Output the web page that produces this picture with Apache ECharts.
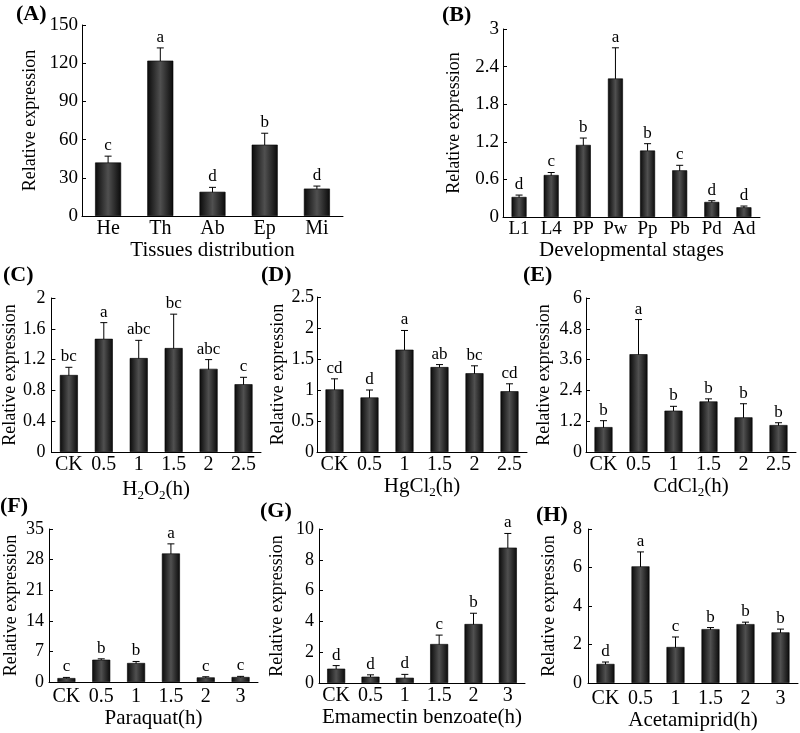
<!DOCTYPE html>
<html>
<head>
<meta charset="utf-8">
<script src="https://cdn.jsdelivr.net/npm/echarts@6/dist/echarts.min.js"></script>
<style>html,body{margin:0;padding:0;background:#fff;}#c{width:800px;height:733px;}</style>
</head>
<body>
<div id="c"></div>
<script>
// ---- data ----
const catsA = ['He','Th','Ab','Ep','Mi'];
const valA = [42, 122, 19, 56, 21.5];
const errA = [5, 10, 3.5, 9, 2];
const sigA = ['c','a','d','b','d'];

const catsB = ['L1','L4','PP','Pw','Pp','Pb','Pd','Ad'];
const valB = [0.32, 0.67, 1.15, 2.21, 1.06, 0.745, 0.24, 0.155];
const errB = [0.03, 0.04, 0.11, 0.49, 0.11, 0.08, 0.02, 0.02];
const sigB = ['d','c','b','a','b','c','d','d'];

const catsCDE = ['CK','0.5','1','1.5','2','2.5'];
const valC = [1.0, 1.47, 1.22, 1.35, 1.08, 0.88];
const errC = [0.1, 0.21, 0.23, 0.44, 0.12, 0.09];
const sigC = ['bc','a','abc','bc','abc','c'];

const valD = [1.01, 0.88, 1.65, 1.37, 1.27, 0.98];
const errD = [0.17, 0.12, 0.31, 0.04, 0.12, 0.12];
const sigD = ['cd','d','a','ab','bc','cd'];

const valE = [0.97, 3.81, 1.61, 1.97, 1.35, 1.05];
const errE = [0.25, 1.35, 0.17, 0.1, 0.53, 0.09];
const sigE = ['b','a','b','b','b','b'];

const catsFGH = ['CK','0.5','1','1.5','2','3'];
const valF = [0.9, 5.1, 4.35, 29.4, 1.05, 1.14];
const errF = [0.15, 0.2, 0.35, 2.2, 0.15, 0.15];
const sigF = ['c','b','b','a','c','c'];

const valG = [0.93, 0.41, 0.34, 2.53, 3.83, 8.79];
const errG = [0.2, 0.12, 0.22, 0.58, 0.7, 0.92];
const sigG = ['d','d','d','c','b','a'];

const valH = [0.99, 6.06, 1.87, 2.8, 3.06, 2.63];
const errH = [0.1, 0.75, 0.52, 0.08, 0.1, 0.17];
const sigH = ['d','a','c','b','b','b'];

const yMax = [150, 3, 2, 2.5, 6, 35, 10, 8];
const yStep = [30, 0.6, 0.4, 0.5, 1.2, 7, 2, 2];
const panelLabels = ['(A)','(B)','(C)','(D)','(E)','(F)','(G)','(H)'];
const xNames = ['Tissues distribution','Developmental stages','H{s|2}O{s|2}(h)','HgCl{s|2}(h)','CdCl{s|2}(h)','Paraquat(h)','Emamectin benzoate(h)','Acetamiprid(h)'];
const yName = 'Relative expression';

// ---- layout ----
const FONT = '"Liberation Serif","Times New Roman",serif';
const panels = [
  {cats:catsA, val:valA, err:errA, sig:sigA, grid:{left:82, top:25, width:261, height:191}, bw:26, catFs:20, tickFs:19, lblM:3, yGap:43, xGap:23, yLblM:4, title:[16,3]},
  {cats:catsB, val:valB, err:errB, sig:sigB, grid:{left:503, top:29, width:257, height:188}, bw:15, catFs:19, tickFs:19, lblM:3, yGap:40, xGap:18, yLblM:4, title:[442,4]},
  {cats:catsCDE, val:valC, err:errC, sig:sigC, grid:{left:51, top:298, width:210, height:154}, bw:18, catFs:20, tickFs:18, lblM:3, yGap:32, xGap:24, yLblM:6, title:[3,264]},
  {cats:catsCDE, val:valD, err:errD, sig:sigD, grid:{left:317, top:297, width:210, height:155}, bw:18, catFs:20, tickFs:18, lblM:3, yGap:29, xGap:21, yLblM:3, title:[261,264]},
  {cats:catsCDE, val:valE, err:errE, sig:sigE, grid:{left:586, top:298, width:210, height:154}, bw:18, catFs:20, tickFs:18, lblM:3, yGap:33, xGap:21, yLblM:4, title:[523,264]},
  {cats:catsFGH, val:valF, err:errF, sig:sigF, grid:{left:49, top:529, width:209, height:153}, bw:18, catFs:20, tickFs:18, lblM:5, yGap:29, xGap:23, yLblM:5, title:[0,495]},
  {cats:catsFGH, val:valG, err:errG, sig:sigG, grid:{left:319, top:529, width:206, height:154}, bw:18, catFs:20, tickFs:18, lblM:3, yGap:33, xGap:21, yLblM:5, title:[260,500]},
  {cats:catsFGH, val:valH, err:errH, sig:sigH, grid:{left:588, top:529, width:210, height:154}, bw:18, catFs:20, tickFs:18, lblM:6, yGap:30, xGap:16, yLblM:6, title:[536,504]}
];

const barColor = {type:'linear', x:0, y:0, x2:1, y2:0, colorStops:[
  {offset:0, color:'#0a0a0a'}, {offset:0.5, color:'#505050'}, {offset:1, color:'#0a0a0a'}]};

const option = {
  animation:false,
  backgroundColor:'#fff',
  title:[], grid:[], xAxis:[], yAxis:[], series:[]
};

panels.forEach((p, i) => {
  option.title.push({text:panelLabels[i], left:p.title[0], top:p.title[1], padding:0,
    textStyle:{fontFamily:FONT, fontWeight:'bold', fontSize:22, color:'#000'}});
  option.grid.push(Object.assign({containLabel:false}, p.grid));
  option.xAxis.push({
    type:'category', gridIndex:i, data:p.cats,
    axisLine:{show:true, lineStyle:{color:'#000', width:1}},
    axisTick:{show:false},
    axisLabel:{color:'#000', fontFamily:FONT, fontSize:p.catFs, margin:p.lblM, interval:0},
    name:xNames[i], nameLocation:'middle', nameGap:p.xGap,
    nameTextStyle:{color:'#000', fontFamily:FONT, fontSize:21,
      rich:{s:{fontFamily:FONT, fontSize:13, color:'#000', verticalAlign:'bottom', lineHeight:26}}}
  });
  option.yAxis.push({
    type:'value', gridIndex:i, min:0, max:yMax[i], interval:yStep[i],
    axisLine:{show:true, lineStyle:{color:'#000', width:1}},
    axisTick:{show:true, inside:true, length:4, lineStyle:{color:'#000'}},
    splitLine:{show:false},
    axisLabel:{color:'#000', fontFamily:FONT, fontSize:p.tickFs, margin:p.yLblM},
    name:yName, nameLocation:'middle', nameGap:p.yGap,
    nameTextStyle:{color:'#000', fontFamily:FONT, fontSize:18}
  });
  option.series.push({
    type:'bar', xAxisIndex:i, yAxisIndex:i, data:p.val, barWidth:p.bw,
    itemStyle:{color:barColor, borderColor:'#000', borderWidth:0.6},
    silent:true
  });
  const sig = p.sig;
  option.series.push({
    type:'custom', xAxisIndex:i, yAxisIndex:i, clip:false, silent:true,
    data:p.val.map((v, j) => [j, v, p.err[j]]),
    encode:{x:0, y:1},
    renderItem:(params, api) => {
      const x = api.value(0), v = api.value(1), e = api.value(2);
      const top = api.coord([x, v + e]);
      const bot = api.coord([x, Math.max(0, v - e)]);
      const cw = 3.5;
      return {type:'group', children:[
        {type:'line', shape:{x1:top[0], y1:top[1], x2:bot[0], y2:bot[1]}, style:{stroke:'#000', lineWidth:1}},
        {type:'line', shape:{x1:top[0]-cw, y1:top[1], x2:top[0]+cw, y2:top[1]}, style:{stroke:'#000', lineWidth:1}},
        {type:'text', x:top[0], y:top[1]-2, style:{text:sig[params.dataIndex], textAlign:'center', textVerticalAlign:'bottom',
          font:'17px ' + FONT, fill:'#000'}}
      ]};
    }
  });
});

const chart = echarts.init(document.getElementById('c'), null, {renderer:'canvas'});
chart.setOption(option);
</script>
</body>
</html>
